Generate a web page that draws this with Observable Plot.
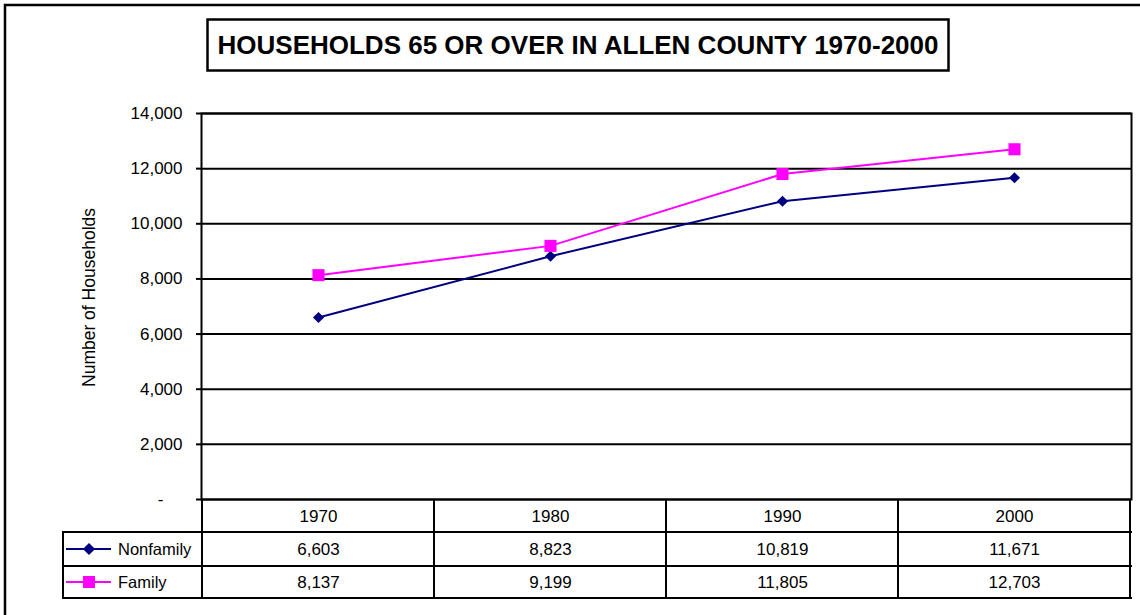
<!DOCTYPE html>
<html><head><meta charset="utf-8">
<script src="https://cdn.jsdelivr.net/npm/d3@7"></script>
<script src="https://cdn.jsdelivr.net/npm/@observablehq/plot@0.6"></script>
<style>body{margin:0;background:#fff} svg{display:block}</style>
</head><body><div id="chart"></div>
<script>
const years = ["1970", "1980", "1990", "2000"];
const nonfamily = [6603, 8823, 10819, 11671];
const family = [8137, 9199, 11805, 12703];
const seriesNames = ["Nonfamily", "Family"];
const seriesColors = ["#000080", "#FF00FF"];
const yTicks = [0, 2000, 4000, 6000, 8000, 10000, 12000, 14000];
const titleText = "HOUSEHOLDS 65 OR OVER IN ALLEN COUNTY 1970-2000";
const yLabel = "Number of Households";

const rows = [];
years.forEach((yr, i) => {
  rows.push({year: yr, series: "Nonfamily", value: nonfamily[i]});
  rows.push({year: yr, series: "Family", value: family[i]});
});
const fmt = d3.format(",");
const FONT = "Arial, 'Liberation Sans', sans-serif";
const TABLE_FS = 17;

function decorations(index, scales, values, dims) {
  const x = scales.x;
  const step = x(years[1]) - x(years[0]);
  const right = dims.width - dims.marginRight;
  const top = dims.height - dims.marginBottom;
  const rowB = [top, top + 33, top + 67, top + 99];
  const tableLeft = 63;
  const g = d3.create("svg:g");
  // outer border (left/top visible)
  g.append("path").attr("d", `M5,${dims.height + 5}V5H${dims.width + 5}`)
    .attr("fill", "none").attr("stroke", "black").attr("stroke-width", 2.5);
  // title box
  g.append("rect").attr("x", 207.5).attr("y", 19.5).attr("width", 741).attr("height", 51)
    .attr("fill", "none").attr("stroke", "black").attr("stroke-width", 2.5);
  g.append("text").attr("x", 578).attr("y", 45).attr("dy", "0.35em")
    .attr("text-anchor", "middle").attr("font-family", FONT).attr("font-size", 26)
    .attr("font-weight", "bold").attr("fill", "black").text(titleText);
  // table grid
  const lines = g.append("g").attr("stroke", "black").attr("stroke-width", 2).attr("fill", "none");
  const bounds = years.map(y => x(y) - step / 2).concat([x(years[years.length - 1]) + step / 2]);
  bounds.forEach(b => lines.append("line").attr("x1", b).attr("x2", b).attr("y1", top).attr("y2", rowB[3] + 1));
  lines.append("line").attr("x1", tableLeft).attr("x2", tableLeft).attr("y1", rowB[1] - 1).attr("y2", rowB[3] + 1);
  [1, 2, 3].forEach(i => lines.append("line").attr("x1", tableLeft - 1).attr("x2", right + 1).attr("y1", rowB[i]).attr("y2", rowB[i]));
  // legend keys in table
  seriesNames.forEach((name, i) => {
    const cy = (rowB[i + 1] + rowB[i + 2]) / 2;
    g.append("line").attr("x1", 66).attr("x2", 111).attr("y1", cy).attr("y2", cy)
      .attr("stroke", seriesColors[i]).attr("stroke-width", 2);
    const sym = i === 0 ? d3.symbol(d3.symbolDiamond2, 95) : d3.symbol(d3.symbolSquare, 144);
    g.append("path").attr("d", sym()).attr("transform", `translate(89,${cy})`).attr("fill", seriesColors[i]);
    g.append("text").attr("x", 118).attr("y", cy).attr("dy", "0.35em").attr("font-family", FONT)
      .attr("text-anchor", "start").attr("font-size", 16.5).attr("fill", "black").text(name);
  });
  return g.node();
}

const plot = Plot.plot({
  width: 1140,
  height: 615,
  marginLeft: 201,
  marginRight: 9,
  marginTop: 113,
  marginBottom: 116,
  style: {fontFamily: FONT, fontSize: "17px", background: "white", color: "black"},
  x: {type: "point", domain: years, padding: 0.5, axis: null},
  y: {domain: [0, 14000], axis: null},
  color: {domain: seriesNames, range: seriesColors},
  marks: [
    Plot.ruleY(yTicks, {stroke: "black", strokeWidth: 2}),
    Plot.frame({stroke: "black", strokeWidth: 2}),
    Plot.axisY({ticks: yTicks, tickSize: 5, tickPadding: 14, strokeWidth: 2, fontSize: 17,
      tickFormat: d => d === 0 ? "" : fmt(d), label: null}),
    Plot.text([0], {y: d => d, frameAnchor: "left", dx: -41, textAnchor: "middle", lineAnchor: "middle", text: () => "-", fontSize: 17}),
    Plot.text([yLabel], {frameAnchor: "left", dx: -112, dy: -9, rotate: -90, textAnchor: "middle", lineAnchor: "middle", text: d => d, fontSize: 17.5}),
    Plot.line(rows, {x: "year", y: "value", z: "series", stroke: "series", strokeWidth: 2}),
    Plot.dot(rows.filter(d => d.series === "Nonfamily"), {x: "year", y: "value", symbol: "diamond2", r: 5, fill: "#000080"}),
    Plot.dot(rows.filter(d => d.series === "Family"), {x: "year", y: "value", symbol: "square", r: 6.8, fill: "#FF00FF"}),
    Plot.text(years, {x: d => d, frameAnchor: "bottom", lineAnchor: "middle", dy: 17, text: d => d, fontSize: TABLE_FS}),
    Plot.text(rows.filter(d => d.series === "Nonfamily"), {x: "year", frameAnchor: "bottom", lineAnchor: "middle", dy: 50, text: d => fmt(d.value), fontSize: TABLE_FS}),
    Plot.text(rows.filter(d => d.series === "Family"), {x: "year", frameAnchor: "bottom", lineAnchor: "middle", dy: 83, text: d => fmt(d.value), fontSize: TABLE_FS}),
    decorations
  ]
});
document.getElementById("chart").appendChild(plot);
</script>
</body></html>
